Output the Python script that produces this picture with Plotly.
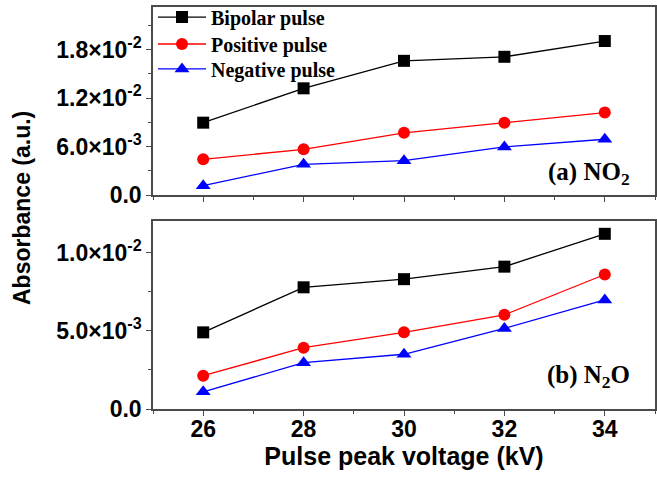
import plotly.graph_objects as go
from plotly.subplots import make_subplots

# Pulse peak voltage (kV)
voltage = [26, 28, 30, 32, 34]

# (a) NO2 absorbance
no2_bipolar = [8.95e-3, 13.2e-3, 16.6e-3, 17.1e-3, 19.05e-3]
no2_positive = [4.42e-3, 5.65e-3, 7.7e-3, 8.95e-3, 10.2e-3]
no2_negative = [1.15e-3, 3.8e-3, 4.25e-3, 5.95e-3, 6.9e-3]

# (b) N2O absorbance
n2o_bipolar = [4.9e-3, 7.78e-3, 8.3e-3, 9.1e-3, 11.2e-3]
n2o_positive = [2.13e-3, 3.92e-3, 4.9e-3, 6.02e-3, 8.6e-3]
n2o_negative = [1.1e-3, 2.96e-3, 3.5e-3, 5.15e-3, 6.97e-3]

series_names = ["Bipolar pulse", "Positive pulse", "Negative pulse"]
series_colors = ["#000000", "#ff0000", "#0000ff"]
series_symbols = ["square", "circle", "triangle-up"]
series_sizes = [12, 12, 13]

top_ticks = [0.0, 6.0e-3, 1.2e-2, 1.8e-2]
top_ticktext = ["0.0", "6.0×10<sup>-3</sup>", "1.2×10<sup>-2</sup>", "1.8×10<sup>-2</sup>"]
bot_ticks = [0.0, 5.0e-3, 1.0e-2]
bot_ticktext = ["0.0", "5.0×10<sup>-3</sup>", "1.0×10<sup>-2</sup>"]
x_ticks = [26, 28, 30, 32, 34]

# one single-entry legend per series so each row can be placed on its own
legend_ids = ["legend", "legend2", "legend3"]
legend_rows_y = [0.975, 0.908, 0.846]

fig = make_subplots(rows=2, cols=1, shared_xaxes=False, vertical_spacing=0.0646)

for i, (ys_top, ys_bot) in enumerate(zip(
        [no2_bipolar, no2_positive, no2_negative],
        [n2o_bipolar, n2o_positive, n2o_negative])):
    fig.add_trace(go.Scatter(
        x=voltage, y=ys_top, mode="lines+markers", name=series_names[i],
        line=dict(color=series_colors[i], width=1.3),
        marker=dict(symbol=series_symbols[i], size=series_sizes[i], color=series_colors[i]),
        showlegend=True, legend=legend_ids[i]), row=1, col=1)
    fig.add_trace(go.Scatter(
        x=voltage, y=ys_bot, mode="lines+markers", name=series_names[i],
        line=dict(color=series_colors[i], width=1.3),
        marker=dict(symbol=series_symbols[i], size=series_sizes[i], color=series_colors[i]),
        showlegend=False), row=2, col=1)

frame = "#4a4a4a"
tick_font = dict(family="Liberation Sans, Arial", size=23, color="#000000", weight="bold")

common_x = dict(range=[25, 35], showline=True, linecolor=frame, linewidth=1.5, mirror=True,
                ticks="outside", ticklen=5, tickwidth=1.2, tickcolor=frame,
                tickmode="array", tickvals=x_ticks, showgrid=False, zeroline=False,
                minor=dict(ticks="outside", ticklen=3, tickwidth=1, tickcolor=frame,
                           tickmode="linear", tick0=25, dtick=1),
                tickfont=tick_font)
common_y = dict(showline=True, linecolor=frame, linewidth=1.5, mirror=True,
                ticks="outside", ticklen=5, tickwidth=1.2, tickcolor=frame,
                tickmode="array", showgrid=False, zeroline=False, tickfont=tick_font)

fig.update_xaxes(common_x, showticklabels=False, row=1, col=1)
fig.update_xaxes(common_x, showticklabels=True, ticklabelstandoff=-6, row=2, col=1,
                 title=dict(text="Pulse peak voltage (kV)", standoff=5,
                            font=dict(family="Liberation Sans, Arial", size=25,
                                      color="#000000", weight="bold")))
fig.update_yaxes(common_y, range=[0, 0.02326], tickvals=top_ticks, ticktext=top_ticktext,
                 minor=dict(ticks="outside", ticklen=3, tickwidth=1, tickcolor=frame,
                            tickmode="linear", tick0=0, dtick=3e-3),
                 row=1, col=1)
fig.update_yaxes(common_y, range=[0, 0.01202], tickvals=bot_ticks, ticktext=bot_ticktext,
                 minor=dict(ticks="outside", ticklen=3, tickwidth=1, tickcolor=frame,
                            tickmode="linear", tick0=0, dtick=2.5e-3),
                 row=2, col=1)

legend_style = dict(x=0.0, xanchor="left", yanchor="middle", bgcolor="rgba(0,0,0,0)",
                    font=dict(family="Liberation Serif, Times New Roman", size=20,
                              color="#000000", weight="bold"),
                    itemwidth=48)

fig.update_layout(
    width=657, height=481,
    margin=dict(l=153, r=2, t=7, b=72, autoexpand=False),
    paper_bgcolor="#ffffff", plot_bgcolor="#ffffff",
    legend=dict(legend_style, y=legend_rows_y[0]),
    legend2=dict(legend_style, y=legend_rows_y[1]),
    legend3=dict(legend_style, y=legend_rows_y[2]),
    annotations=[
        dict(text="(a) NO<sub>2</sub>", x=0.955, y=0.585, xref="paper", yref="paper",
             xanchor="right", yanchor="middle", showarrow=False,
             font=dict(family="Liberation Serif, Times New Roman", size=25,
                       color="#000000", weight="bold")),
        dict(text="(b) N<sub>2</sub>O", x=0.955, y=0.08, xref="paper", yref="paper",
             xanchor="right", yanchor="middle", showarrow=False,
             font=dict(family="Liberation Serif, Times New Roman", size=25,
                       color="#000000", weight="bold")),
        dict(text="Absorbance (a.u.)", x=0, y=0.5, xref="paper", yref="paper",
             textangle=-90, showarrow=False, xanchor="center", yanchor="middle",
             font=dict(family="Liberation Sans, Arial", size=23,
                       color="#000000", weight="bold")),
    ],
)
# y title sits at a fixed pixel offset from the left page edge
fig.layout.annotations[2].update(x=-(153 - 22) / (657 - 153 - 2))

fig.write_html("out.html")
